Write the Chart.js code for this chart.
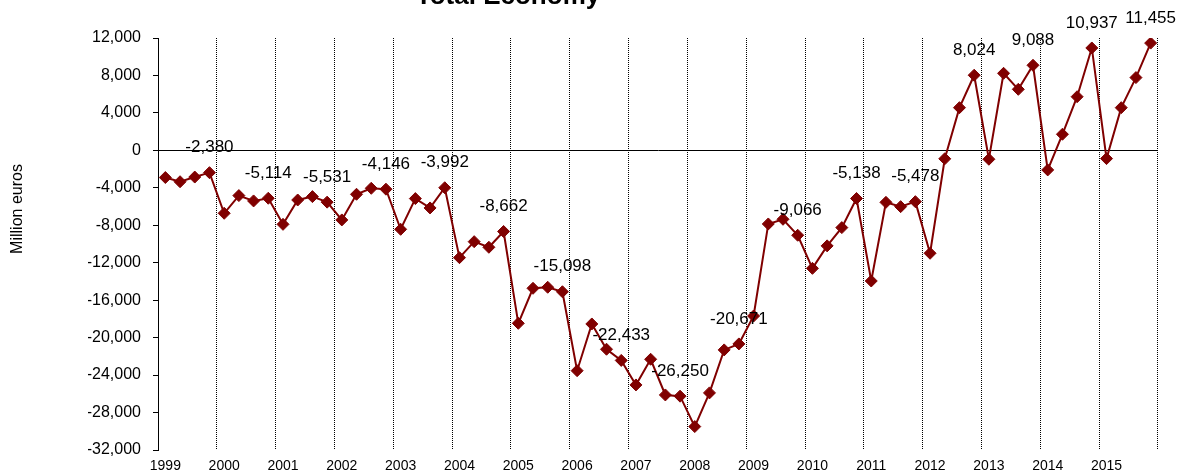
<!DOCTYPE html>
<html>
<head>
<meta charset="utf-8">
<script src="https://cdn.jsdelivr.net/npm/chart.js@4"></script>
<style>
  html, body { margin: 0; padding: 0; background: #fff; }
  canvas { display: block; }
</style>
</head>
<body>
<canvas id="balanceChart" width="1186" height="475"></canvas>
<script>
// ---------------- DATA ----------------
const years = ['1999', '2000', '2001', '2002', '2003', '2004', '2005', '2006',
               '2007', '2008', '2009', '2010', '2011', '2012', '2013', '2014', '2015'];

// quarterly values, million euros (Q1..Q4 for each year)
const balance = [
    -2900, -3350, -2850, -2380,
    -6720, -4830, -5400, -5114,
    -7900, -5300, -4940, -5531,
    -7430, -4690, -4050, -4146,
    -8430, -5150, -6150, -3992,
    -11460, -9750, -10350, -8662,
    -18470, -14730, -14620, -15098,
    -23530, -18540, -21240, -22433,
    -25050, -22310, -26120, -26250,
    -29500, -25900, -21310, -20671,
    -17690, -7860, -7360, -9066,
    -12600, -10200, -8250, -5138,
    -13950, -5550, -6010, -5478,
    -10990, -900, 4560, 8024,
    -950, 8230, 6520, 9088,
    -2090, 1720, 5730, 10937,
    -880, 4560, 7770, 11455
];

const yTicksMin = -32000;
const yTicksMax = 12000;
const yTicksStep = 4000;

// one category per quarter, only the first quarter shows the year
const quarterLabels = [];
years.forEach(y => { quarterLabels.push(y, '', '', ''); });

const fmt = v => v.toLocaleString('en-US');
const FONT = 'Arial, "Liberation Sans", sans-serif';

// ---------------- PLUGINS ----------------
// value labels above the last quarter of every year
const q4Labels = {
    id: 'q4Labels',
    afterDatasetsDraw(chart) {
        const ctx = chart.ctx;
        const meta = chart.getDatasetMeta(0);
        ctx.save();
        ctx.font = '17px ' + FONT;
        ctx.fillStyle = '#000';
        ctx.textAlign = 'center';
        ctx.textBaseline = 'middle';
        meta.data.forEach((pt, i) => {
            if (i % 4 !== 3) return;
            ctx.fillText(fmt(balance[i]), pt.x, pt.y - 25);
        });
        ctx.restore();
    }
};

// chart title (cut off at the top) and the y axis caption
const titles = {
    id: 'titles',
    afterDraw(chart) {
        const ctx = chart.ctx;
        ctx.save();
        ctx.fillStyle = '#000';
        ctx.textAlign = 'center';
        ctx.textBaseline = 'alphabetic';
        ctx.font = 'bold 26px ' + FONT;
        ctx.fillText('Total Economy', 508, 4);

        ctx.translate(18, 209);
        ctx.rotate(-Math.PI / 2);
        ctx.textBaseline = 'middle';
        ctx.font = '16px ' + FONT;
        ctx.fillText('Million euros', 0, 0);
        ctx.restore();
    }
};

// ---------------- LINE CHART ----------------
const chartCtx = document.getElementById('balanceChart');

new Chart(chartCtx, {
    type: 'line',
    data: {
        labels: quarterLabels,
        datasets: [{
            label: 'Total Economy',
            data: balance,
            borderColor: '#800000',
            backgroundColor: '#800000',
            borderWidth: 2,
            pointStyle: 'rectRot',
            pointRadius: 6,
            pointBorderWidth: 1,
            pointBackgroundColor: '#800000',
            pointBorderColor: '#800000',
            fill: false,
            tension: 0
        }]
    },
    options: {
        responsive: false,
        animation: false,
        devicePixelRatio: 1,
        layout: {
            padding: { left: 88, right: 28, top: 38, bottom: 0 }
        },
        plugins: {
            legend: { display: false },
            title: { display: false },
            tooltip: { enabled: false }
        },
        scales: {
            x: {
                offset: true,
                afterFit: s => { s.height = 25; },
                // in v4 the dash of the grid lines lives under border
                border: { display: false, dash: [1, 1] },
                grid: {
                    offset: true,
                    drawTicks: false,
                    // dotted line at every year boundary, the first one is the y axis itself
                    color: c => (c.index === undefined || (c.index % 4 === 0 && c.index > 0)) ? '#000' : 'transparent',
                    lineWidth: 1
                },
                ticks: {
                    autoSkip: false,
                    maxRotation: 0,
                    minRotation: 0,
                    padding: 8,
                    color: '#000',
                    font: { family: FONT, size: 14 }
                }
            },
            y: {
                min: yTicksMin,
                max: yTicksMax,
                afterFit: s => { s.width = 70; },
                border: { display: true, color: '#000', width: 1 },
                grid: {
                    // only the zero line crosses the plot
                    color: c => (c.tick && c.tick.value === 0) ? '#000' : 'transparent',
                    tickColor: '#000',
                    tickLength: 5,
                    lineWidth: 1
                },
                ticks: {
                    stepSize: yTicksStep,
                    padding: 12,
                    color: '#000',
                    font: { family: FONT, size: 16 },
                    callback: v => fmt(v)
                }
            }
        }
    },
    plugins: [q4Labels, titles]
});
</script>
</body>
</html>
